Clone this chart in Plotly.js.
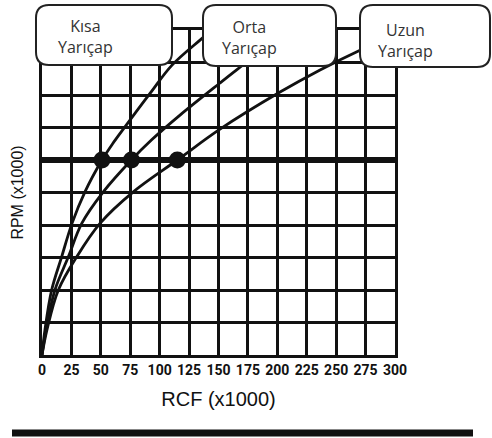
<!DOCTYPE html>
<html>
<head>
<meta charset="utf-8">
<script src="https://cdn.plot.ly/plotly-3.0.1.min.js"></script>
<style>html,body{margin:0;padding:0;background:#fff;}#chart{width:492px;height:438px;}</style>
</head>
<body>
<div id="chart"></div>
<script>
// RCF (x1000) tick labels
const rcfTicks = [0, 25, 50, 75, 100, 125, 150, 175, 200, 225, 250, 275, 300];

// Curve readings (RCF x1000, RPM x1000)
const kisaRcf = [0, 2.5, 8.2, 16.7, 25.5, 36.5, 51, 60, 70.5, 91.8, 110.5, 134.3, 144.5];
const kisaRpm = [0, 0.77, 2.0, 3.02, 4.05, 5.02, 6.0, 6.5, 7.02, 8.05, 8.92, 9.69, 10];

const ortaRcf = [0, 3.4, 11.0, 22.4, 33.8, 52.1, 76, 93.2, 117.3, 151.3, 165.7, 210];
const ortaRpm = [0, 0.77, 2.0, 3.02, 4.05, 5.02, 6.0, 6.62, 7.38, 8.37, 8.78, 10];

const uzunRcf = [0, 4.2, 13.9, 29.5, 49.3, 77.6, 115, 151.3, 202.3, 236.3, 270.3, 300];
const uzunRpm = [0, 0.77, 2.0, 3.02, 4.05, 5.02, 6.0, 6.95, 8.09, 8.77, 9.38, 9.85];

// Reference speed line and its intersections
const refRpm = 6;
const refRcfRange = [0, 300];
const dotRcf = [51, 76, 115];
const dotRpm = [6, 6, 6];

// Labels
const labelTexts = ["Kısa<br>Yarıçap", "Orta<br>Yarıçap", "Uzun<br>Yarıçap"];

// ---- layout helpers (pixel -> paper) ----
const W = 492, H = 438, ML = 42, MR = 97, MT = 30, MB = 83;
const PW = W - ML - MR, PH = H - MT - MB;
const px = p => (p - ML) / PW;
const py = p => (H - MB - p) / PH;
function rr(x0, y0, x1, y1, r) {
  const P = (x, y) => px(x).toFixed(5) + "," + py(y).toFixed(5);
  return "M" + P(x0 + r, y0) + " L" + P(x1 - r, y0) + " Q" + P(x1, y0) + " " + P(x1, y0 + r) +
    " L" + P(x1, y1 - r) + " Q" + P(x1, y1) + " " + P(x1 - r, y1) +
    " L" + P(x0 + r, y1) + " Q" + P(x0, y1) + " " + P(x0, y1 - r) +
    " L" + P(x0, y0 + r) + " Q" + P(x0, y0) + " " + P(x0 + r, y0) + " Z";
}
const boxes = [[36, 5, 172, 65], [203, 5, 336, 66], [360, 5, 490, 67]];
const labelPos = [[85, 37], [249, 38], [405, 40]];

const ink = "#111";
const curveLine = {color: ink, width: 2.8, shape: "spline", smoothing: 1};

const traces = [
  {x: kisaRcf, y: kisaRpm, mode: "lines", line: curveLine, name: "Kısa Yarıçap"},
  {x: ortaRcf, y: ortaRpm, mode: "lines", line: curveLine, name: "Orta Yarıçap"},
  {x: uzunRcf, y: uzunRpm, mode: "lines", line: curveLine, name: "Uzun Yarıçap"},
  {x: refRcfRange, y: [refRpm, refRpm], mode: "lines", line: {color: ink, width: 6}, name: "ref"},
  {x: dotRcf, y: dotRpm, mode: "markers", marker: {color: ink, size: 17}, name: "dots"}
];

const shapes = boxes.map(b => ({
  type: "path", xref: "paper", yref: "paper", layer: "above",
  path: rr(b[0], b[1], b[2], b[3], 13),
  fillcolor: "#fff", line: {color: "#222", width: 2}
}));
shapes.push({type: "line", xref: "paper", yref: "paper", layer: "above",
  x0: px(12), x1: px(473), y0: py(433), y1: py(433), line: {color: ink, width: 7}});

const annotations = labelTexts.map((t, i) => ({
  text: t, xref: "paper", yref: "paper", x: px(labelPos[i][0]), y: py(labelPos[i][1]),
  xanchor: "center", yanchor: "middle", align: "center", showarrow: false,
  font: {family: "Open Sans, Noto Sans, sans-serif", size: 16, color: "#333"}
}));

const layout = {
  width: W, height: H,
  margin: {l: ML, r: MR, t: MT, b: MB, pad: 0},
  paper_bgcolor: "#fff", plot_bgcolor: "#fff",
  showlegend: false,
  xaxis: {
    range: [0, 300], tickvals: rcfTicks, ticktext: rcfTicks.map(v => "<b>" + v + "</b>"),
    showgrid: true, gridcolor: ink, gridwidth: 3, zeroline: false,
    showline: true, linecolor: ink, linewidth: 3, mirror: true,
    ticks: "", ticklabelstandoff: 0,
    tickfont: {family: "Roboto, Liberation Sans, Arial, sans-serif", size: 14, color: ink, weight: 700},
    title: {text: "RCF (x1000)", standoff: 16,
      font: {family: "Liberation Sans, Arial, sans-serif", size: 20, color: ink}},
    fixedrange: true
  },
  yaxis: {
    range: [0, 10], dtick: 1, showticklabels: false,
    showgrid: true, gridcolor: ink, gridwidth: 3, zeroline: false,
    showline: true, linecolor: ink, linewidth: 3, mirror: true, ticks: "",
    title: {text: "RPM (x1000)" + "\u00A0".repeat(12), standoff: 12,
      font: {family: "Liberation Sans, Arial, sans-serif", size: 16, color: ink}},
    fixedrange: true
  },
  shapes: shapes,
  annotations: annotations
};

Plotly.newPlot("chart", traces, layout, {displayModeBar: false, staticPlot: true});
</script>
</body>
</html>
